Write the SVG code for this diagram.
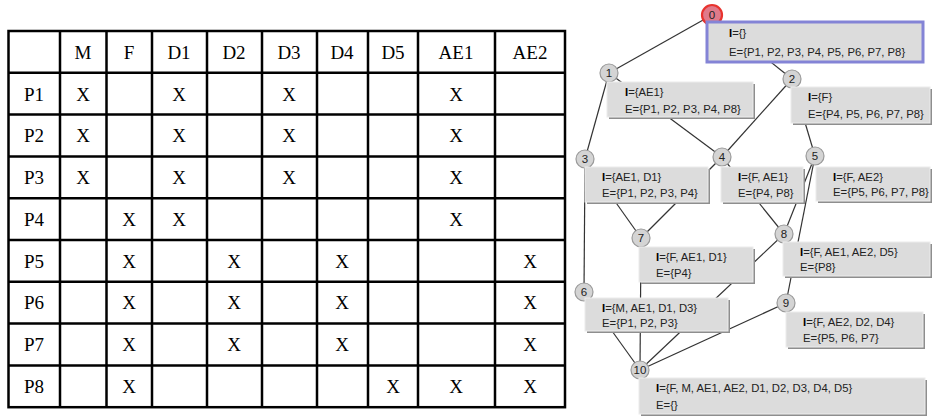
<svg xmlns="http://www.w3.org/2000/svg" width="932" height="417" viewBox="0 0 932 417">
<style>
.tl{stroke:#000;stroke-width:2.5;fill:none}
.tt{font-family:"Liberation Serif",serif;font-size:19px;fill:#000;text-anchor:middle}
.edge{stroke:#333;stroke-width:1.2;fill:none}
.cir{fill:#d4d4d4;stroke:#9a9a9a;stroke-width:1.2}
.num{font-family:"Liberation Sans",Arial,sans-serif;font-size:11.5px;fill:#222;text-anchor:middle}
.shd{fill:#8e8e8e}
.box{fill:#dcdcdc;stroke:#ececec;stroke-width:1}
.lbl{font-family:"Liberation Sans",Arial,sans-serif;font-size:11.3px;fill:#222}
.b{font-weight:bold;fill:#000}
</style>
<rect width="932" height="417" fill="#fff"/>
<g id="table">
<rect class="tl" x="8.5" y="31" width="556.5" height="376.2"/>
<path class="tl" d="M60 31V407.2M106.5 31V407.2M152 31V407.2M207 31V407.2M262 31V407.2M317 31V407.2M368 31V407.2M418 31V407.2M495 31V407.2"/>
<path class="tl" d="M8.5 72.8H565M8.5 114.6H565M8.5 156.4H565M8.5 198.2H565M8.5 240H565M8.5 281.8H565M8.5 323.6H565M8.5 365.4H565"/>
<g class="tt">
<text x="83" y="58.5">M</text><text x="129" y="58.5">F</text><text x="179" y="58.5">D1</text><text x="234" y="58.5">D2</text><text x="289" y="58.5">D3</text><text x="342" y="58.5">D4</text><text x="393" y="58.5">D5</text><text x="456" y="58.5">AE1</text><text x="530" y="58.5">AE2</text>
<text x="34" y="100.5">P1</text><text x="34" y="142">P2</text><text x="34" y="184">P3</text><text x="34" y="225.5">P4</text><text x="34" y="267.5">P5</text><text x="34" y="309">P6</text><text x="34" y="351">P7</text><text x="34" y="392.5">P8</text>
<text x="83" y="100.5">X</text><text x="179" y="100.5">X</text><text x="289" y="100.5">X</text><text x="456" y="100.5">X</text>
<text x="83" y="142">X</text><text x="179" y="142">X</text><text x="289" y="142">X</text><text x="456" y="142">X</text>
<text x="83" y="184">X</text><text x="179" y="184">X</text><text x="289" y="184">X</text><text x="456" y="184">X</text>
<text x="129" y="225.5">X</text><text x="179" y="225.5">X</text><text x="456" y="225.5">X</text>
<text x="129" y="267.5">X</text><text x="234" y="267.5">X</text><text x="342" y="267.5">X</text><text x="530" y="267.5">X</text>
<text x="129" y="309">X</text><text x="234" y="309">X</text><text x="342" y="309">X</text><text x="530" y="309">X</text>
<text x="129" y="351">X</text><text x="234" y="351">X</text><text x="342" y="351">X</text><text x="530" y="351">X</text>
<text x="129" y="392.5">X</text><text x="393" y="392.5">X</text><text x="456" y="392.5">X</text><text x="530" y="392.5">X</text>
</g>
</g>
<g id="connectors">
<line class="edge" x1="712" y1="15" x2="609" y2="73"/>
<line class="edge" x1="712" y1="15" x2="792" y2="79"/>
<line class="edge" x1="609" y1="73" x2="585" y2="159"/>
<line class="edge" x1="609" y1="73" x2="722" y2="157"/>
<line class="edge" x1="792" y1="79" x2="722" y2="157"/>
<line class="edge" x1="792" y1="79" x2="815" y2="156"/>
<line class="edge" x1="585" y1="159" x2="584" y2="292"/>
<line class="edge" x1="585" y1="159" x2="641" y2="238"/>
<line class="edge" x1="722" y1="157" x2="641" y2="238"/>
<line class="edge" x1="722" y1="157" x2="784" y2="234"/>
<line class="edge" x1="815" y1="156" x2="784" y2="234"/>
<line class="edge" x1="815" y1="156" x2="786" y2="303"/>
<line class="edge" x1="584" y1="292" x2="640" y2="370"/>
<line class="edge" x1="641" y1="238" x2="640" y2="370"/>
<line class="edge" x1="784" y1="234" x2="640" y2="370"/>
<line class="edge" x1="786" y1="303" x2="640" y2="370"/>
</g>
<g id="n0">
<circle cx="712" cy="15" r="10" fill="#e07a8a" stroke="#e8332e" stroke-width="2.2"/>
<text class="num" x="712" y="19">0</text>
<rect x="707" y="22" width="216" height="40" fill="#dcdcdc" stroke="#8484d6" stroke-width="3"/>
<text class="lbl" x="729" y="37"><tspan class="b">I</tspan>={}</text>
<text class="lbl" x="729" y="56">E={P1, P2, P3, P4, P5, P6, P7, P8}</text>
</g>
<g id="n1">
<circle class="cir" cx="609" cy="73" r="9"/><text class="num" x="609" y="77">1</text>
<rect class="shd" x="609" y="84" width="146" height="35"/><rect class="box" x="607" y="82" width="146" height="35"/>
<text class="lbl" x="625" y="96"><tspan class="b">I</tspan>={AE1}</text>
<text class="lbl" x="625" y="113">E={P1, P2, P3, P4, P8}</text>
</g>
<g id="n2">
<circle class="cir" cx="792" cy="79" r="9"/><text class="num" x="792" y="83">2</text>
<rect class="shd" x="793" y="89" width="139" height="36"/><rect class="box" x="791" y="87" width="139" height="36"/>
<text class="lbl" x="808" y="101"><tspan class="b">I</tspan>={F}</text>
<text class="lbl" x="808" y="118">E={P4, P5, P6, P7, P8}</text>
</g>
<g id="n3">
<circle class="cir" cx="585" cy="159" r="9"/><text class="num" x="585" y="163">3</text>
<rect class="shd" x="587" y="169" width="123" height="35"/><rect class="box" x="585" y="167" width="123" height="35"/>
<text class="lbl" x="602" y="181"><tspan class="b">I</tspan>={AE1, D1}</text>
<text class="lbl" x="602" y="197">E={P1, P2, P3, P4}</text>
</g>
<g id="n4">
<circle class="cir" cx="722" cy="157" r="9"/><text class="num" x="722" y="161">4</text>
<rect class="shd" x="723" y="169" width="82" height="35"/><rect class="box" x="721" y="167" width="82" height="35"/>
<text class="lbl" x="738" y="181"><tspan class="b">I</tspan>={F, AE1}</text>
<text class="lbl" x="738" y="197">E={P4, P8}</text>
</g>
<g id="n5">
<circle class="cir" cx="815" cy="156" r="9"/><text class="num" x="815" y="160">5</text>
<rect class="shd" x="818" y="169" width="114" height="34"/><rect class="box" x="816" y="167" width="114" height="34"/>
<text class="lbl" x="833" y="181"><tspan class="b">I</tspan>={F, AE2}</text>
<text class="lbl" x="833" y="196">E={P5, P6, P7, P8}</text>
</g>
<g id="n6">
<circle class="cir" cx="584" cy="292" r="9"/><text class="num" x="584" y="296">6</text>
<rect class="shd" x="587" y="300" width="143" height="33"/><rect class="box" x="585" y="298" width="143" height="33"/>
<text class="lbl" x="602" y="312"><tspan class="b">I</tspan>={M, AE1, D1, D3}</text>
<text class="lbl" x="602" y="327">E={P1, P2, P3}</text>
</g>
<g id="n7">
<circle class="cir" cx="641" cy="238" r="9"/><text class="num" x="641" y="242">7</text>
<rect class="shd" x="641" y="249" width="114" height="35"/><rect class="box" x="639" y="247" width="114" height="35"/>
<text class="lbl" x="656" y="261"><tspan class="b">I</tspan>={F, AE1, D1}</text>
<text class="lbl" x="656" y="277">E={P4}</text>
</g>
<g id="n8">
<circle class="cir" cx="784" cy="234" r="9"/><text class="num" x="784" y="238">8</text>
<rect class="shd" x="785" y="244" width="147" height="34"/><rect class="box" x="783" y="242" width="147" height="34"/>
<text class="lbl" x="800" y="256"><tspan class="b">I</tspan>={F, AE1, AE2, D5}</text>
<text class="lbl" x="800" y="271">E={P8}</text>
</g>
<g id="n9">
<circle class="cir" cx="786" cy="303" r="9"/><text class="num" x="786" y="307">9</text>
<rect class="shd" x="788" y="314" width="137" height="35"/><rect class="box" x="786" y="312" width="137" height="35"/>
<text class="lbl" x="803" y="326"><tspan class="b">I</tspan>={F, AE2, D2, D4}</text>
<text class="lbl" x="803" y="342">E={P5, P6, P7}</text>
</g>
<g id="n10">
<circle class="cir" cx="640" cy="370" r="9"/><text class="num" x="640" y="374">10</text>
<rect class="shd" x="641" y="380" width="286" height="36"/><rect class="box" x="639" y="378" width="286" height="36"/>
<text class="lbl" x="656" y="392"><tspan class="b">I</tspan>={F, M, AE1, AE2, D1, D2, D3, D4, D5}</text>
<text class="lbl" x="656" y="409">E={}</text>
</g>
</svg>
